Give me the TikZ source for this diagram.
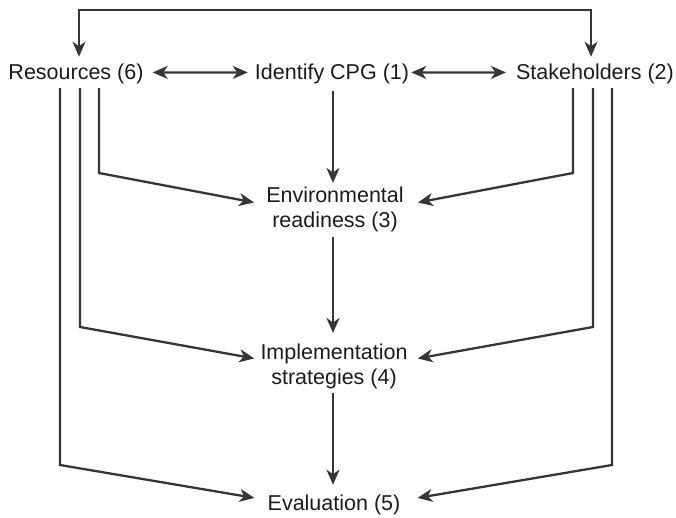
\documentclass[tikz,border=0pt]{standalone}
\usepackage{fontspec}
\setmainfont{Liberation Sans}
\usetikzlibrary{arrows.meta,calc}
\definecolor{ink}{HTML}{363636}
\definecolor{txt}{HTML}{1C1C1C}
\begin{document}
\begin{tikzpicture}[x=1pt,y=-1pt,
  lbl/.style={inner sep=0pt, text=txt, font=\fontsize{21.5}{24.5}\selectfont, align=center},
  tip/.tip={Stealth[length=15pt,width=13pt,inset=4.5pt]},
  link/.style={draw=ink, line width=2.3pt, -tip},
  both/.style={draw=ink, line width=2.3pt, tip-tip},
]
\useasboundingbox (0,0) rectangle (676,518);

% stages of the process
\node[lbl, anchor=base]  (res) at (76,80)   {Resources (6)};
\node[lbl, anchor=base]  (cpg) at (332,80)  {Identify CPG (1)};
\node[lbl, anchor=base]  (stk) at (595,80)  {Stakeholders (2)};
\node[lbl, anchor=north] (env) at (335,187) {Environmental\\readiness (3)};
\node[lbl, anchor=north] (imp) at (334,344) {Implementation\\strategies (4)};
\node[lbl, anchor=base]  (eva) at (334,510) {Evaluation (5)};

% levels where the side lines turn towards the centre column
\coordinate (yEnv) at (0,173);
\coordinate (yImp) at (0,327);
\coordinate (yEva) at (0,465);
\coordinate (yTop) at (0,10);

% loop over the top joining resources and stakeholders
\coordinate (lt) at ($(res.north)+(3,-7.5)$);
\coordinate (rt) at ($(stk.north)+(-4,-7.5)$);
\draw[both] (lt) -- (lt |- yTop) -- (rt |- yTop) -- (rt);

% horizontal two-way links on the top row
\draw[both] ($(res.east)+(9,-2)$) -- ($(cpg.west)+(-7,-2)$);
\draw[both] ($(cpg.east)+(2,-2)$) -- ($(stk.west)+(-10,-2)$);

% centre column
\draw[link] ($(cpg.south)+(1,6.5)$) -- ($(env.north)+(-2,-4)$);
\draw[link] ($(env.south)+(-2,5)$) -- ($(imp.north)+(-1,-11)$);
\draw[link] ($(imp.south)+(-1,4)$) -- ($(eva.north)+(-1,-9.5)$);

% resources feeding the stages
\coordinate (r3) at ($(res.south)+(23,3.5)$);
\coordinate (r2) at ($(res.south)+(4,3.5)$);
\coordinate (r1) at ($(res.south)+(-16,3.5)$);
\draw[link] (r3) -- (r3 |- yEnv) -- ($(env.west)+(-12,-7)$);
\draw[link] (r2) -- (r2 |- yImp) -- ($(imp.west)+(-6,-8)$);
\draw[link] (r1) -- (r1 |- yEva) -- ($(eva.west)+(-13,-6.5)$);

% stakeholders feeding the stages
\coordinate (s3) at ($(stk.south)+(-22,3.5)$);
\coordinate (s2) at ($(stk.south)+(-2,3.5)$);
\coordinate (s1) at ($(stk.south)+(17,3.5)$);
\draw[link] (s3) -- (s3 |- yEnv) -- ($(env.east)+(14,-7)$);
\draw[link] (s2) -- (s2 |- yImp) -- ($(imp.east)+(10,-8)$);
\draw[link] (s1) -- (s1 |- yEva) -- ($(eva.east)+(17,-6.5)$);
\end{tikzpicture}
\end{document}
